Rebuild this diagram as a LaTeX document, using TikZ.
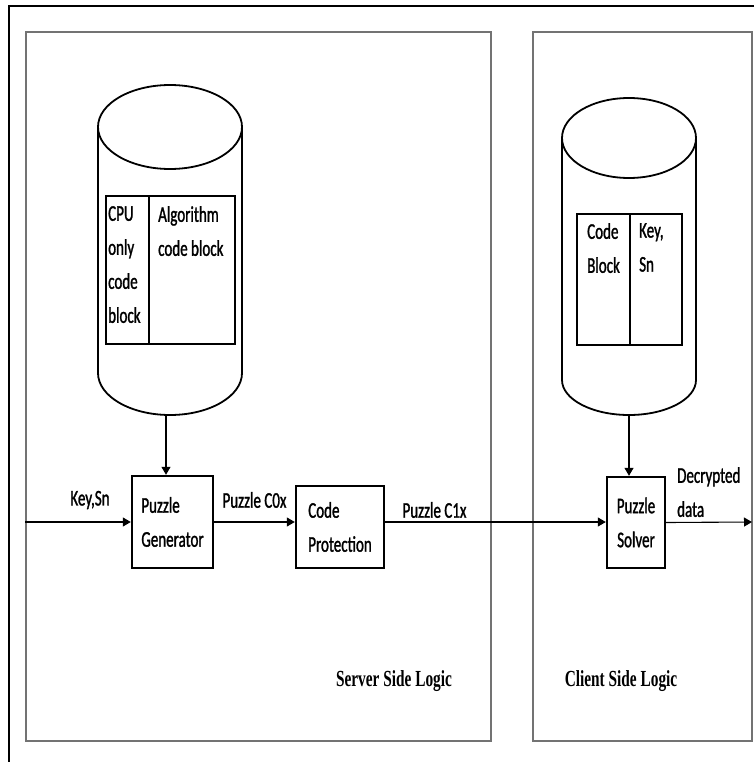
\documentclass[tikz,border=0pt]{standalone}
\usepackage{fontspec}
\usepackage{tikz}
\usetikzlibrary{arrows.meta, positioning}

\newfontfamily\boxfam[FakeStretch=0.667, FakeBold=1.2]{Carlito}
\newfontfamily\titlefam[FakeStretch=0.667]{Liberation Serif}
\newcommand{\boxfont}{\boxfam\fontsize{22.5}{34}\selectfont}
\newcommand{\titlefont}{\titlefam\bfseries\fontsize{23}{28}\selectfont}

\begin{document}
\begin{tikzpicture}[
    x=1pt, y=1pt,
    frame/.style={line width=1.2pt},
    panel/.style={draw=black!55, line width=1.5pt, inner sep=0pt},
    paneltitle/.style={font=\titlefont, inner sep=0pt},
    db/.style={line width=1.8pt},
    tbl/.style={draw, line width=2.4pt, inner sep=0pt, anchor=north west},
    divider/.style={line width=1.4pt},
    blk/.style={draw, line width=2.4pt, align=left, font=\boxfont},
    lbl/.style={font=\boxfont, align=left, inner sep=0pt},
    arrow/.style={-{Triangle[length=8pt, width=9pt]}, line width=1.1pt}
]
\useasboundingbox (0,0) rectangle (754,-762);

% Outer frame
\draw[frame] (754,-6) -- (9,-6) -- (9,-762);

% Panels
\node[panel, minimum width=465pt, minimum height=709pt] (server) at (258.5,-386.5) {};
\node[panel, minimum width=219pt, minimum height=709pt] (client) at (642.5,-386.5) {};
\node[paneltitle] (srvtitle) at (394,-681) {Server Side Logic};
\node[paneltitle] (clttitle) at (621,-681) {Client Side Logic};

% Server side store
\draw[db] (170,-127) ellipse [x radius=72, y radius=42];
\draw[db] (98,-127) -- (98,-373) arc [start angle=180, end angle=360, x radius=72, y radius=42] -- (242,-127);
\coordinate (srvdb) at (166,-415);
\node[tbl, minimum width=129pt, minimum height=148pt] (srvtbl) at (105,-195) {};
\draw[divider] ([xshift=44pt]srvtbl.north west) -- ([xshift=44pt]srvtbl.south west);
\node[lbl, anchor=north west] (cputxt) at (108,-206) {CPU\\only\\code\\block};
\node[lbl, anchor=north west] (algtxt) at (158,-206) {Algorithm\\code block};

% Client side store
\draw[db] (629,-138) ellipse [x radius=67, y radius=40];
\draw[db] (562,-138) -- (562,-380) arc [start angle=180, end angle=360, x radius=67, y radius=35] -- (696,-138);
\coordinate (cltdb) at (629,-415);
\node[tbl, minimum width=105pt, minimum height=131pt] (clttbl) at (576,-213) {};
\draw[divider] ([xshift=54pt]clttbl.north west) -- ([xshift=54pt]clttbl.south west);
\node[lbl, anchor=north west] (codetxt) at (587,-223) {Code\\Block};
\node[lbl, anchor=north west] (keytxt) at (639,-223) {Key,\\Sn};

% Blocks
\node[blk, minimum width=81pt, minimum height=92pt] (gen) at (172.5,-522) {Puzzle\\Generator};
\node[blk, minimum width=88pt, minimum height=82pt] (prot) at (340,-527) {Code\\Protection};
\node[blk, align=center, minimum width=58pt, minimum height=91pt] (solver) at (636,-522.5) {Puzzle\\Solver};

% Labels
\node[lbl] (keylbl) at (90,-500) {Key,Sn};
\node[lbl] (c0lbl) at (254.5,-500) {Puzzle C0x};
\node[lbl] (c1lbl) at (434.5,-510) {Puzzle C1x};
\node[lbl, anchor=north west] (datalbl) at (677,-467) {Decrypted\\data};

% Arrows
\coordinate (keyin) at (server.west |- gen.west);
\coordinate (dataout) at (752,-522);
\draw[arrow] (keyin) -- (gen.west);
\draw[arrow] (gen.east) -- (gen.east -| prot.west);
\draw[arrow] (prot.east |- gen.east) -- (gen.east -| solver.west);
\draw[arrow] (solver.east) -- (dataout);
\draw[arrow] (srvdb) -- (srvdb |- gen.north);
\draw[arrow] (cltdb) -- (cltdb |- solver.north);

\end{tikzpicture}
\end{document}
